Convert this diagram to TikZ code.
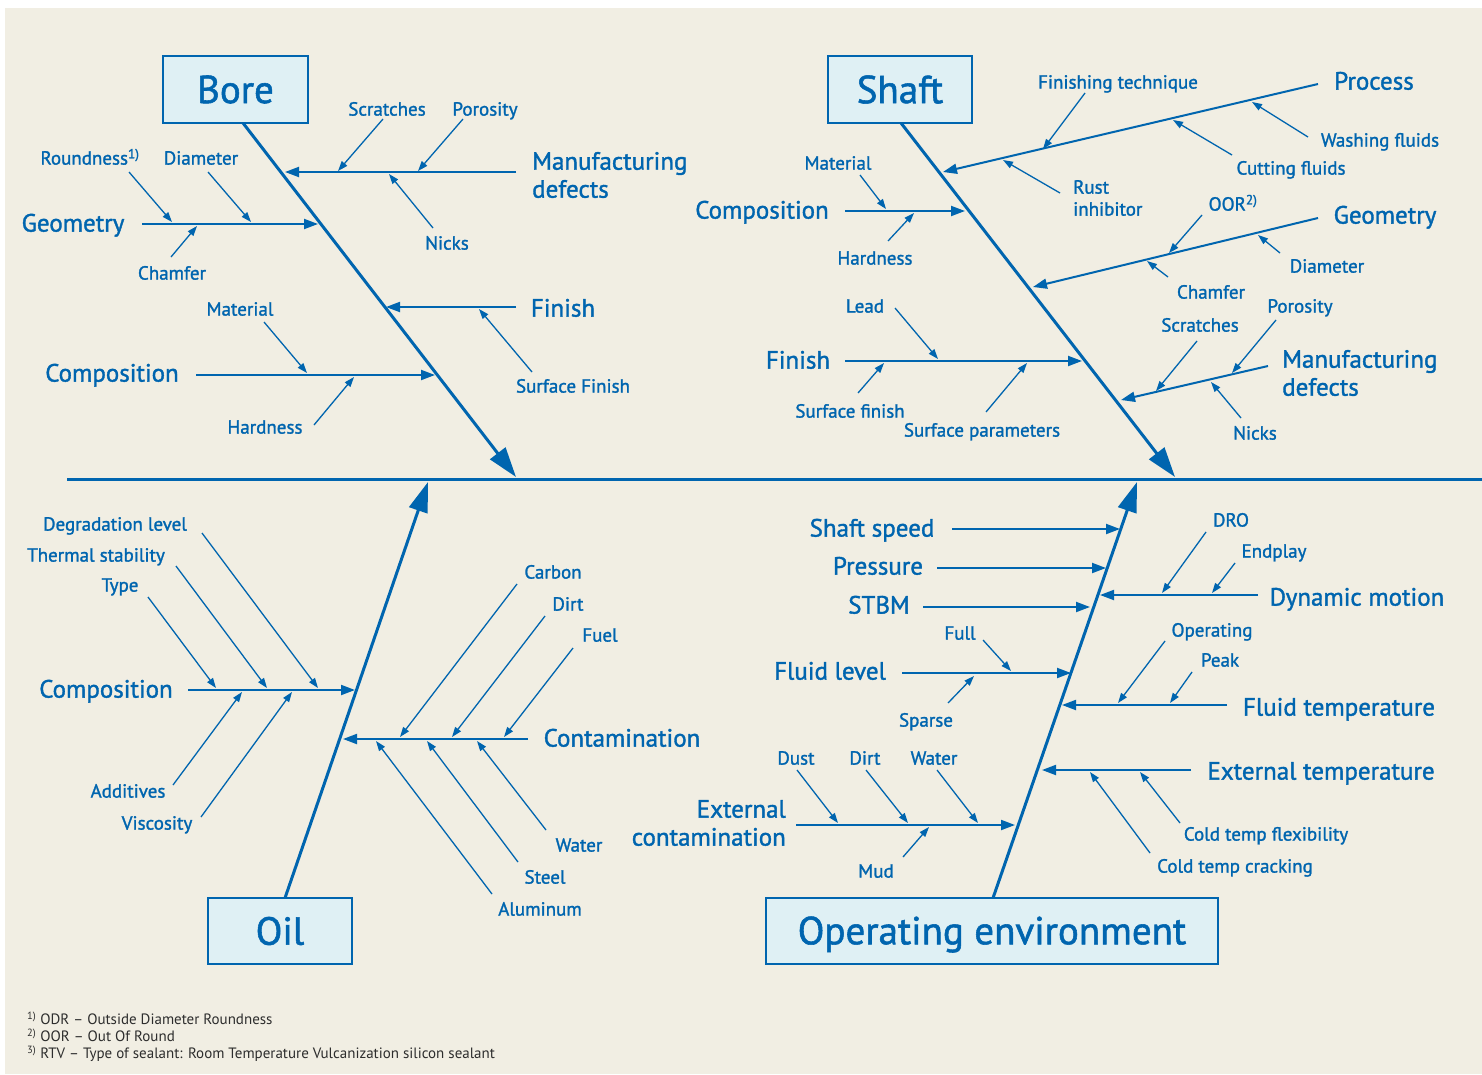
\documentclass[tikz,border=0pt]{standalone}
\usepackage{fontspec}
\setmainfont{PT Sans}
\newfontfamily\medfont{PT Sans}[FakeBold=1.4]
\usetikzlibrary{arrows.meta,calc}
\definecolor{fbblue}{RGB}{0,101,175}
\definecolor{fbsand}{RGB}{241,238,227}
\definecolor{fbbox}{RGB}{223,240,244}
\definecolor{fbnote}{RGB}{45,45,45}

\begin{document}
\begin{tikzpicture}[x=1pt,y=-1pt,
  bone/.style={line width=3pt,draw=fbblue},
  bonehead/.style={bone,-{Triangle[length=30pt,width=19pt]}},
  cause/.style={line width=2pt,draw=fbblue,-{Triangle[length=14pt,width=10pt]}},
  sub/.style={line width=1.3pt,draw=fbblue,-{Triangle[length=10pt,width=7pt]}},
  lab/.style={text=fbblue,inner sep=0pt,text height=0.72em,text depth=0.2em,yshift=-5pt,font=\medfont\fontsize{19}{22}\selectfont},
  big/.style={text=fbblue,inner sep=0pt,text height=0.72em,text depth=0.2em,yshift=-6pt,font=\medfont\fontsize{25}{28}\selectfont},
  bigtwo/.style={text=fbblue,inner sep=0pt,font=\medfont\fontsize{25}{28}\selectfont},
  title/.style={draw=fbblue,line width=2pt,fill=fbbox,text=fbblue,inner sep=0pt,font=\medfont\fontsize{39}{40}\selectfont}]
\useasboundingbox (0,0) rectangle (1482,1074);
\fill[white] (0,0) rectangle (1482,1074);
\fill[fbsand] (5,8) rectangle (1482,1074);

\coordinate[] (H0) at (67,479);
\coordinate[] (H1) at (1482,479);

\coordinate[] (B0) at (243,123);
\coordinate[] (B1) at (516,477);
\coordinate[] (BM0) at (516,172);
\coordinate[] (BM1) at (285,172);
\coordinate[] (BMs0) at (383,119);
\coordinate[] (BMs1) at (338,171);
\coordinate[] (BMp0) at (463,119);
\coordinate[] (BMp1) at (418,171);
\coordinate[] (BMn0) at (433,228);
\coordinate[] (BMn1) at (389,174);
\coordinate[] (BG0) at (142,224);
\coordinate[] (BG1) at (318,224);
\coordinate[] (BGr0) at (129,172);
\coordinate[] (BGr1) at (172,222);
\coordinate[] (BGd0) at (208,172);
\coordinate[] (BGd1) at (251,222);
\coordinate[] (BGc0) at (171,257);
\coordinate[] (BGc1) at (197,226);
\coordinate[] (BF0) at (516,307);
\coordinate[] (BF1) at (386,307);
\coordinate[] (BFs0) at (532,372);
\coordinate[] (BFs1) at (479,309);
\coordinate[] (BC0) at (196,375);
\coordinate[] (BC1) at (435,375);
\coordinate[] (BCm0) at (264,322);
\coordinate[] (BCm1) at (307,373);
\coordinate[] (BCh0) at (314,425);
\coordinate[] (BCh1) at (354,377);

\coordinate[] (S0) at (901,123);
\coordinate[] (S1) at (1175,477);
\coordinate[] (SP0) at (1318,84);
\coordinate[] (SP1) at (943,172);
\coordinate[] (SPf0) at (1085,93);
\coordinate[] (SPf1) at (1043,149);
\coordinate[] (SPw0) at (1308,137);
\coordinate[] (SPw1) at (1252,102);
\coordinate[] (SPc0) at (1232,155);
\coordinate[] (SPc1) at (1173,120);
\coordinate[] (SPr0) at (1060,193);
\coordinate[] (SPr1) at (1003,160);
\coordinate[] (SC0) at (845,211);
\coordinate[] (SC1) at (965,211);
\coordinate[] (SCm0) at (860,175);
\coordinate[] (SCm1) at (886,209);
\coordinate[] (SCh0) at (888,241);
\coordinate[] (SCh1) at (914,213);
\coordinate[] (SG0) at (1318,218);
\coordinate[] (SG1) at (1033,287);
\coordinate[] (SGo0) at (1202,215);
\coordinate[] (SGo1) at (1169,253);
\coordinate[] (SGd0) at (1280,253);
\coordinate[] (SGd1) at (1258,235);
\coordinate[] (SGc0) at (1168,277);
\coordinate[] (SGc1) at (1147,261);
\coordinate[] (SF0) at (845,361);
\coordinate[] (SF1) at (1082,361);
\coordinate[] (SFl0) at (895,308);
\coordinate[] (SFl1) at (938,359);
\coordinate[] (SFs0) at (858,393);
\coordinate[] (SFs1) at (884,363);
\coordinate[] (SFp0) at (986,412);
\coordinate[] (SFp1) at (1027,363);
\coordinate[] (SM0) at (1268,366);
\coordinate[] (SM1) at (1121,400);
\coordinate[] (SMs0) at (1197,341);
\coordinate[] (SMs1) at (1156,391);
\coordinate[] (SMp0) at (1276,320);
\coordinate[] (SMp1) at (1232,373);
\coordinate[] (SMn0) at (1241,418);
\coordinate[] (SMn1) at (1211,382);

\coordinate[] (O0) at (285,898);
\coordinate[] (O1) at (428,482);
\coordinate[] (OC0) at (188,690);
\coordinate[] (OC1) at (355,690);
\coordinate[] (OCd0) at (202,533);
\coordinate[] (OCd1) at (318,688);
\coordinate[] (OCt0) at (176,566);
\coordinate[] (OCt1) at (267,688);
\coordinate[] (OCy0) at (148,597);
\coordinate[] (OCy1) at (216,688);
\coordinate[] (OCa0) at (173,785);
\coordinate[] (OCa1) at (242,692);
\coordinate[] (OCv0) at (201,817);
\coordinate[] (OCv1) at (292,692);
\coordinate[] (OK0) at (528,739);
\coordinate[] (OK1) at (343,739);
\coordinate[] (OKc0) at (517,584);
\coordinate[] (OKc1) at (400,737);
\coordinate[] (OKd0) at (545,616);
\coordinate[] (OKd1) at (452,737);
\coordinate[] (OKf0) at (573,648);
\coordinate[] (OKf1) at (504,737);
\coordinate[] (OKw0) at (546,830);
\coordinate[] (OKw1) at (477,741);
\coordinate[] (OKs0) at (518,862);
\coordinate[] (OKs1) at (427,741);
\coordinate[] (OKa0) at (492,894);
\coordinate[] (OKa1) at (376,741);

\coordinate[] (E0) at (993,898);
\coordinate[] (E1) at (1137,482);
\coordinate[] (ES0) at (952,529);
\coordinate[] (ES1) at (1120,529);
\coordinate[] (EP0) at (937,568);
\coordinate[] (EP1) at (1106,568);
\coordinate[] (ET0) at (923,607);
\coordinate[] (ET1) at (1090,607);
\coordinate[] (ED0) at (1258,595);
\coordinate[] (ED1) at (1100,595);
\coordinate[] (EDr0) at (1206,532);
\coordinate[] (EDr1) at (1162,593);
\coordinate[] (EDe0) at (1235,563);
\coordinate[] (EDe1) at (1212,593);
\coordinate[] (EL0) at (902,673);
\coordinate[] (EL1) at (1071,673);
\coordinate[] (ELf0) at (983,640);
\coordinate[] (ELf1) at (1011,671);
\coordinate[] (ELs0) at (948,703);
\coordinate[] (ELs1) at (974,676);
\coordinate[] (EF0) at (1227,705);
\coordinate[] (EF1) at (1062,705);
\coordinate[] (EFo0) at (1165,641);
\coordinate[] (EFo1) at (1118,703);
\coordinate[] (EFp0) at (1192,672);
\coordinate[] (EFp1) at (1170,703);
\coordinate[] (EX0) at (1191,770);
\coordinate[] (EX1) at (1042,770);
\coordinate[] (EXf0) at (1180,823);
\coordinate[] (EXf1) at (1140,772);
\coordinate[] (EXc0) at (1150,853);
\coordinate[] (EXc1) at (1090,772);
\coordinate[] (EC0) at (796,825);
\coordinate[] (EC1) at (1015,825);
\coordinate[] (ECu0) at (797,770);
\coordinate[] (ECu1) at (838,823);
\coordinate[] (ECi0) at (866,770);
\coordinate[] (ECi1) at (908,823);
\coordinate[] (ECw0) at (937,770);
\coordinate[] (ECw1) at (978,823);
\coordinate[] (ECm0) at (903,857);
\coordinate[] (ECm1) at (929,827);

\node[title,minimum width=145pt,minimum height=67pt] (bore) at (235.5,89.5) {Bore};
\node[title,minimum width=144pt,minimum height=67pt] (shaft) at (900,89.5) {Shaft};
\node[title,minimum width=144pt,minimum height=66pt] (oil) at (280,931) {Oil};
\node[title,minimum width=452pt,minimum height=66pt,text height=31pt,text depth=4.5pt] (openv) at (992,931) {Operating environment};

\node[lab] (bscr) at (387,108) {Scratches};
\node[lab] (bpor) at (485,108) {Porosity};
\node[lab] (bnic) at (447,242) {Nicks};
\node[bigtwo,anchor=west,align=left] (bman) at (532,175) {Manufacturing\\defects};
\node[lab] (brou) at (90,157) {Roundness\textsuperscript{1)}};
\node[lab] (bdia) at (201,157) {Diameter};
\node[big] (bgeo) at (73,223) {Geometry};
\node[lab] (bcha) at (172,272) {Chamfer};
\node[lab] (bmat) at (240,308) {Material};
\node[big] (bcom) at (112,373) {Composition};
\node[lab] (bhar) at (265,426) {Hardness};
\node[big] (bfin) at (563,308) {Finish};
\node[lab] (bsur) at (573,385) {Surface Finish};

\node[lab] (sfte) at (1118,81) {Finishing technique};
\node[big] (spro) at (1374,81) {Process};
\node[lab] (swas) at (1380,139) {Washing fluids};
\node[lab] (scut) at (1291,167) {Cutting fluids};
\node[lab,anchor=west,align=left,text height=,text depth=,yshift=0pt] (srus) at (1073,193) {Rust\\inhibitor};
\node[lab] (smat) at (838,162) {Material};
\node[big] (scom) at (762,210) {Composition};
\node[lab] (shar) at (875,257) {Hardness};
\node[lab] (soor) at (1233,203) {OOR\textsuperscript{2)}};
\node[big] (sgeo) at (1385,215) {Geometry};
\node[lab] (sdia) at (1327,265) {Diameter};
\node[lab] (scha) at (1211,291) {Chamfer};
\node[lab] (slea) at (865,305) {Lead};
\node[big] (sfin) at (798,360) {Finish};
\node[lab] (ssfi) at (850,410) {Surface finish};
\node[lab] (sspa) at (982,429) {Surface parameters};
\node[lab] (sscr) at (1200,324) {Scratches};
\node[lab] (spor) at (1300,305) {Porosity};
\node[bigtwo,anchor=west,align=left] (sman) at (1282,373) {Manufacturing\\defects};
\node[lab] (snic) at (1255,432) {Nicks};

\node[lab] (odeg) at (115,523) {Degradation level};
\node[lab] (othe) at (96,554) {Thermal stability};
\node[lab] (otyp) at (120,584) {Type};
\node[big] (ocom) at (106,689) {Composition};
\node[lab] (oadd) at (128,790) {Additives};
\node[lab] (ovis) at (157,822) {Viscosity};
\node[lab] (ocar) at (553,571) {Carbon};
\node[lab] (odir) at (568,603) {Dirt};
\node[lab] (ofue) at (600,634) {Fuel};
\node[big] (ocon) at (622,738) {Contamination};
\node[lab] (owat) at (579,844) {Water};
\node[lab] (oste) at (545,876) {Steel};
\node[lab] (oalu) at (540,908) {Aluminum};

\node[big] (espe) at (872,528) {Shaft speed};
\node[big] (epre) at (878,566) {Pressure};
\node[big] (estb) at (879,605) {STBM};
\node[lab] (edro) at (1231,519) {DRO};
\node[lab] (eend) at (1274,550) {Endplay};
\node[big] (edyn) at (1357,597) {Dynamic motion};
\node[lab] (eful) at (960,632) {Full};
\node[big] (eflu) at (830,671) {Fluid level};
\node[lab] (espa) at (926,719) {Sparse};
\node[lab] (eope) at (1212,629) {Operating};
\node[lab] (epea) at (1220,659) {Peak};
\node[big] (eftm) at (1339,707) {Fluid temperature};
\node[big] (eext) at (1321,771) {External temperature};
\node[lab] (ecfl) at (1266,833) {Cold temp flexibility};
\node[lab] (ecra) at (1235,865) {Cold temp cracking};
\node[lab] (edus) at (796,757) {Dust};
\node[lab] (edir) at (865,757) {Dirt};
\node[lab] (ewat) at (934,757) {Water};
\node[bigtwo,anchor=east,align=right] (econ) at (786,823) {External\\contamination};
\node[lab] (emud) at (876,870) {Mud};

\node[anchor=north west,align=left,inner sep=0pt,text=fbnote,font=\fontsize{15}{17}\selectfont] (notes) at (27,1012)
 {\textsuperscript{1)}\ ODR – Outside Diameter Roundness\\
  \textsuperscript{2)}\ OOR – Out Of Round\\
  \textsuperscript{3)}\ RTV – Type of sealant: Room Temperature Vulcanization silicon sealant};

\draw[bone] (H0) -- (H1);
\draw[bonehead] (B0) -- (B1);
\draw[bonehead] (S0) -- (S1);
\draw[bonehead] (O0) -- (O1);
\draw[bonehead] (E0) -- (E1);

\draw[cause] (BM0) -- (BM1);
\draw[cause] (BG0) -- (BG1);
\draw[cause] (BF0) -- (BF1);
\draw[cause] (BC0) -- (BC1);
\draw[cause] (SP0) -- (SP1);
\draw[cause] (SC0) -- (SC1);
\draw[cause] (SG0) -- (SG1);
\draw[cause] (SF0) -- (SF1);
\draw[cause] (SM0) -- (SM1);
\draw[cause] (OC0) -- (OC1);
\draw[cause] (OK0) -- (OK1);
\draw[cause] (ES0) -- (ES1);
\draw[cause] (EP0) -- (EP1);
\draw[cause] (ET0) -- (ET1);
\draw[cause] (ED0) -- (ED1);
\draw[cause] (EL0) -- (EL1);
\draw[cause] (EF0) -- (EF1);
\draw[cause] (EX0) -- (EX1);
\draw[cause] (EC0) -- (EC1);

\draw[sub] (BMs0) -- (BMs1);
\draw[sub] (BMp0) -- (BMp1);
\draw[sub] (BMn0) -- (BMn1);
\draw[sub] (BGr0) -- (BGr1);
\draw[sub] (BGd0) -- (BGd1);
\draw[sub] (BGc0) -- (BGc1);
\draw[sub] (BFs0) -- (BFs1);
\draw[sub] (BCm0) -- (BCm1);
\draw[sub] (BCh0) -- (BCh1);
\draw[sub] (SPf0) -- (SPf1);
\draw[sub] (SPw0) -- (SPw1);
\draw[sub] (SPc0) -- (SPc1);
\draw[sub] (SPr0) -- (SPr1);
\draw[sub] (SCm0) -- (SCm1);
\draw[sub] (SCh0) -- (SCh1);
\draw[sub] (SGo0) -- (SGo1);
\draw[sub] (SGd0) -- (SGd1);
\draw[sub] (SGc0) -- (SGc1);
\draw[sub] (SFl0) -- (SFl1);
\draw[sub] (SFs0) -- (SFs1);
\draw[sub] (SFp0) -- (SFp1);
\draw[sub] (SMs0) -- (SMs1);
\draw[sub] (SMp0) -- (SMp1);
\draw[sub] (SMn0) -- (SMn1);
\draw[sub] (OCd0) -- (OCd1);
\draw[sub] (OCt0) -- (OCt1);
\draw[sub] (OCy0) -- (OCy1);
\draw[sub] (OCa0) -- (OCa1);
\draw[sub] (OCv0) -- (OCv1);
\draw[sub] (OKc0) -- (OKc1);
\draw[sub] (OKd0) -- (OKd1);
\draw[sub] (OKf0) -- (OKf1);
\draw[sub] (OKw0) -- (OKw1);
\draw[sub] (OKs0) -- (OKs1);
\draw[sub] (OKa0) -- (OKa1);
\draw[sub] (EDr0) -- (EDr1);
\draw[sub] (EDe0) -- (EDe1);
\draw[sub] (ELf0) -- (ELf1);
\draw[sub] (ELs0) -- (ELs1);
\draw[sub] (EFo0) -- (EFo1);
\draw[sub] (EFp0) -- (EFp1);
\draw[sub] (EXf0) -- (EXf1);
\draw[sub] (EXc0) -- (EXc1);
\draw[sub] (ECu0) -- (ECu1);
\draw[sub] (ECi0) -- (ECi1);
\draw[sub] (ECw0) -- (ECw1);
\draw[sub] (ECm0) -- (ECm1);

\end{tikzpicture}
\end{document}
